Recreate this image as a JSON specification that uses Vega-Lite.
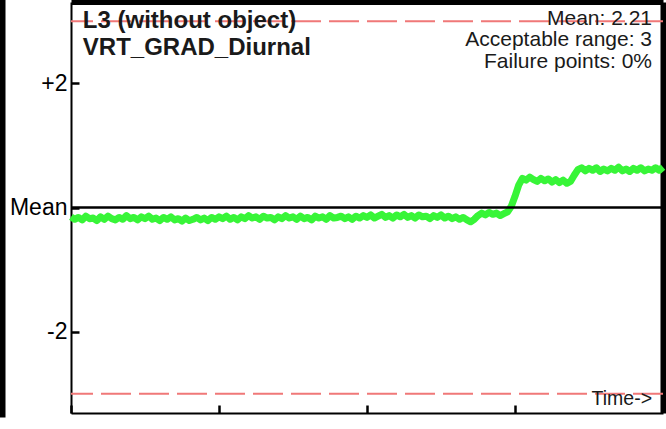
{
  "$schema": "https://vega.github.io/schema/vega-lite/v6.json",
  "width": 592,
  "height": 411,
  "padding": {"left": 71, "top": 2, "right": 3, "bottom": 16},
  "autosize": {"type": "none"},
  "background": "white",
  "config": {"view": {"stroke": null}, "font": "Liberation Sans", "axis": {"grid": false}},
  "data": {"values": [{}]},
  "datasets": {
    "limits": [{"v": 3}, {"v": -3}],
    "signal": [
      {"t":0,"v":-0.15},{"t":0.025,"v":-0.19},{"t":0.05,"v":-0.16},{"t":0.075,"v":-0.2},{"t":0.1,"v":-0.14},{"t":0.125,"v":-0.18},{"t":0.15,"v":-0.17},{"t":0.175,"v":-0.21},{"t":0.2,"v":-0.15},{"t":0.225,"v":-0.19},
      {"t":0.25,"v":-0.14},{"t":0.275,"v":-0.18},{"t":0.3,"v":-0.2},{"t":0.325,"v":-0.16},{"t":0.35,"v":-0.19},{"t":0.375,"v":-0.13},{"t":0.4,"v":-0.18},{"t":0.425,"v":-0.16},{"t":0.45,"v":-0.2},{"t":0.475,"v":-0.15},
      {"t":0.5,"v":-0.18},{"t":0.525,"v":-0.14},{"t":0.55,"v":-0.19},{"t":0.575,"v":-0.17},{"t":0.6,"v":-0.21},{"t":0.625,"v":-0.16},{"t":0.65,"v":-0.19},{"t":0.675,"v":-0.15},{"t":0.7,"v":-0.2},{"t":0.725,"v":-0.18},
      {"t":0.75,"v":-0.22},{"t":0.775,"v":-0.17},{"t":0.8,"v":-0.21},{"t":0.825,"v":-0.19},{"t":0.85,"v":-0.16},{"t":0.875,"v":-0.2},{"t":0.9,"v":-0.17},{"t":0.925,"v":-0.21},{"t":0.95,"v":-0.16},{"t":0.975,"v":-0.19},
      {"t":1.0,"v":-0.15},{"t":1.025,"v":-0.18},{"t":1.05,"v":-0.14},{"t":1.075,"v":-0.19},{"t":1.1,"v":-0.16},{"t":1.125,"v":-0.2},{"t":1.15,"v":-0.15},{"t":1.175,"v":-0.18},{"t":1.2,"v":-0.13},{"t":1.225,"v":-0.17},
      {"t":1.25,"v":-0.15},{"t":1.275,"v":-0.19},{"t":1.3,"v":-0.14},{"t":1.325,"v":-0.17},{"t":1.35,"v":-0.16},{"t":1.375,"v":-0.2},{"t":1.4,"v":-0.15},{"t":1.425,"v":-0.18},{"t":1.45,"v":-0.13},{"t":1.475,"v":-0.17},
      {"t":1.5,"v":-0.15},{"t":1.525,"v":-0.19},{"t":1.55,"v":-0.14},{"t":1.575,"v":-0.18},{"t":1.6,"v":-0.16},{"t":1.625,"v":-0.2},{"t":1.65,"v":-0.14},{"t":1.675,"v":-0.17},{"t":1.7,"v":-0.15},{"t":1.725,"v":-0.19},
      {"t":1.75,"v":-0.13},{"t":1.775,"v":-0.17},{"t":1.8,"v":-0.16},{"t":1.825,"v":-0.14},{"t":1.85,"v":-0.18},{"t":1.875,"v":-0.15},{"t":1.9,"v":-0.19},{"t":1.925,"v":-0.14},{"t":1.95,"v":-0.17},{"t":1.975,"v":-0.13},
      {"t":2.0,"v":-0.16},{"t":2.025,"v":-0.12},{"t":2.05,"v":-0.17},{"t":2.075,"v":-0.14},{"t":2.1,"v":-0.11},{"t":2.125,"v":-0.16},{"t":2.15,"v":-0.13},{"t":2.175,"v":-0.17},{"t":2.2,"v":-0.12},{"t":2.225,"v":-0.15},
      {"t":2.25,"v":-0.11},{"t":2.275,"v":-0.16},{"t":2.3,"v":-0.13},{"t":2.325,"v":-0.17},{"t":2.35,"v":-0.12},{"t":2.375,"v":-0.15},{"t":2.4,"v":-0.14},{"t":2.425,"v":-0.18},{"t":2.45,"v":-0.13},{"t":2.475,"v":-0.16},
      {"t":2.5,"v":-0.12},{"t":2.525,"v":-0.17},{"t":2.55,"v":-0.14},{"t":2.575,"v":-0.18},{"t":2.6,"v":-0.15},{"t":2.625,"v":-0.19},{"t":2.65,"v":-0.16},{"t":2.675,"v":-0.2},{"t":2.7,"v":-0.23},{"t":2.725,"v":-0.19},
      {"t":2.75,"v":-0.13},{"t":2.775,"v":-0.09},{"t":2.8,"v":-0.12},{"t":2.825,"v":-0.08},{"t":2.85,"v":-0.11},{"t":2.875,"v":-0.09},{"t":2.9,"v":-0.13},{"t":2.925,"v":-0.1},{"t":2.95,"v":-0.07},{"t":2.975,"v":0.02},
      {"t":3.0,"v":0.18},{"t":3.025,"v":0.36},{"t":3.05,"v":0.47},{"t":3.075,"v":0.44},{"t":3.1,"v":0.49},{"t":3.125,"v":0.45},{"t":3.15,"v":0.42},{"t":3.175,"v":0.47},{"t":3.2,"v":0.43},{"t":3.225,"v":0.46},
      {"t":3.25,"v":0.41},{"t":3.275,"v":0.45},{"t":3.3,"v":0.4},{"t":3.325,"v":0.44},{"t":3.35,"v":0.39},{"t":3.375,"v":0.42},{"t":3.4,"v":0.52},{"t":3.425,"v":0.61},{"t":3.45,"v":0.64},{"t":3.475,"v":0.59},
      {"t":3.5,"v":0.63},{"t":3.525,"v":0.6},{"t":3.55,"v":0.64},{"t":3.575,"v":0.58},{"t":3.6,"v":0.62},{"t":3.625,"v":0.59},{"t":3.65,"v":0.63},{"t":3.675,"v":0.6},{"t":3.7,"v":0.65},{"t":3.725,"v":0.59},
      {"t":3.75,"v":0.62},{"t":3.775,"v":0.58},{"t":3.8,"v":0.63},{"t":3.825,"v":0.6},{"t":3.85,"v":0.64},{"t":3.875,"v":0.59},{"t":3.9,"v":0.62},{"t":3.925,"v":0.6},{"t":3.95,"v":0.64},{"t":3.975,"v":0.6},
      {"t":4.0,"v":0.65}
    ]
  },
  "resolve": {"axis": {"x": "independent", "y": "independent"}},
  "layer": [
    {
      "data": {"name": "limits"},
      "mark": {"type": "rule", "color": "#f07878", "strokeWidth": 2, "strokeDash": [30, 8]},
      "encoding": {
        "y": {"field": "v", "type": "quantitative", "scale": {"domain": [-3.31, 3.31], "nice": false, "zero": false}, "axis": null}
      }
    },
    {
      "data": {"name": "signal"},
      "mark": {"type": "line", "color": "#38f538", "strokeWidth": 7, "strokeJoin": "round"},
      "encoding": {
        "x": {"field": "t", "type": "quantitative", "scale": {"domain": [0, 4], "nice": false, "zero": false},
          "axis": {"orient": "bottom", "values": [0, 1, 2, 3], "labels": false, "title": null, "tickSize": -8, "tickWidth": 2.5, "tickColor": "black", "domainColor": "black", "domainWidth": 2, "grid": false}},
        "y": {"field": "v", "type": "quantitative", "scale": {"domain": [-3.31, 3.31], "nice": false, "zero": false},
          "axis": {"orient": "left", "values": [-2, 0, 2], "labelExpr": "datum.value > 0 ? '+2' : (datum.value < 0 ? '-2' : 'Mean')", "labelFontSize": 23, "labelColor": "black", "labelFont": "Liberation Sans", "labelPadding": 12, "tickSize": -8, "tickWidth": 2.5, "tickColor": "black", "domainColor": "black", "domainWidth": 2, "title": null, "grid": false}}
      }
    },
    {
      "mark": {"type": "rule", "color": "black", "strokeWidth": 2.5},
      "encoding": {"y": {"datum": 0, "type": "quantitative", "axis": null}}
    },
    {
      "mark": {"type": "text", "text": "L3 (without object)", "font": "Liberation Sans", "fontWeight": "bold", "fontSize": 24, "align": "left", "baseline": "alphabetic", "color": "#1a1a1a"},
      "encoding": {"x": {"datum": 0.08, "type": "quantitative", "axis": null}, "y": {"datum": 2.895, "type": "quantitative", "axis": null}}
    },
    {
      "mark": {"type": "text", "text": "VRT_GRAD_Diurnal", "font": "Liberation Sans", "fontWeight": "bold", "fontSize": 24, "align": "left", "baseline": "alphabetic", "color": "#1a1a1a"},
      "encoding": {"x": {"datum": 0.08, "type": "quantitative", "axis": null}, "y": {"datum": 2.46, "type": "quantitative", "axis": null}}
    },
    {
      "mark": {"type": "text", "text": "Mean: 2.21", "font": "Liberation Sans", "fontSize": 21, "align": "right", "baseline": "alphabetic", "color": "#1a1a1a"},
      "encoding": {"x": {"datum": 3.926, "type": "quantitative", "axis": null}, "y": {"datum": 2.944, "type": "quantitative", "axis": null}}
    },
    {
      "mark": {"type": "text", "text": "Acceptable range: 3", "font": "Liberation Sans", "fontSize": 21, "align": "right", "baseline": "alphabetic", "color": "#1a1a1a"},
      "encoding": {"x": {"datum": 3.926, "type": "quantitative", "axis": null}, "y": {"datum": 2.597, "type": "quantitative", "axis": null}}
    },
    {
      "mark": {"type": "text", "text": "Failure points: 0%", "font": "Liberation Sans", "fontSize": 21, "align": "right", "baseline": "alphabetic", "color": "#1a1a1a"},
      "encoding": {"x": {"datum": 3.926, "type": "quantitative", "axis": null}, "y": {"datum": 2.25, "type": "quantitative", "axis": null}}
    },
    {
      "mark": {"type": "text", "text": "Time->", "font": "Liberation Sans", "fontSize": 19.5, "align": "right", "baseline": "alphabetic", "color": "#1a1a1a"},
      "encoding": {"x": {"datum": 3.926, "type": "quantitative", "axis": null}, "y": {"datum": -3.185, "type": "quantitative", "axis": null}}
    },
    {
      "mark": {"type": "text", "text": ""},
      "encoding": {
        "x": {"datum": 0, "type": "quantitative", "axis": {"orient": "top", "domainColor": "black", "domainWidth": 5, "ticks": false, "labels": false, "title": null, "grid": false}},
        "y": {"datum": 0, "type": "quantitative", "axis": {"orient": "right", "domainColor": "black", "domainWidth": 6, "ticks": false, "labels": false, "title": null, "grid": false}}
      }
    },
    {
      "mark": {"type": "text", "text": ""},
      "encoding": {
        "y": {"datum": 0, "type": "quantitative", "axis": {"orient": "left", "offset": 70, "domainColor": "black", "domainWidth": 8, "domainCap": "square", "ticks": false, "labels": false, "title": null, "grid": false}}
      }
    }
  ]
}
